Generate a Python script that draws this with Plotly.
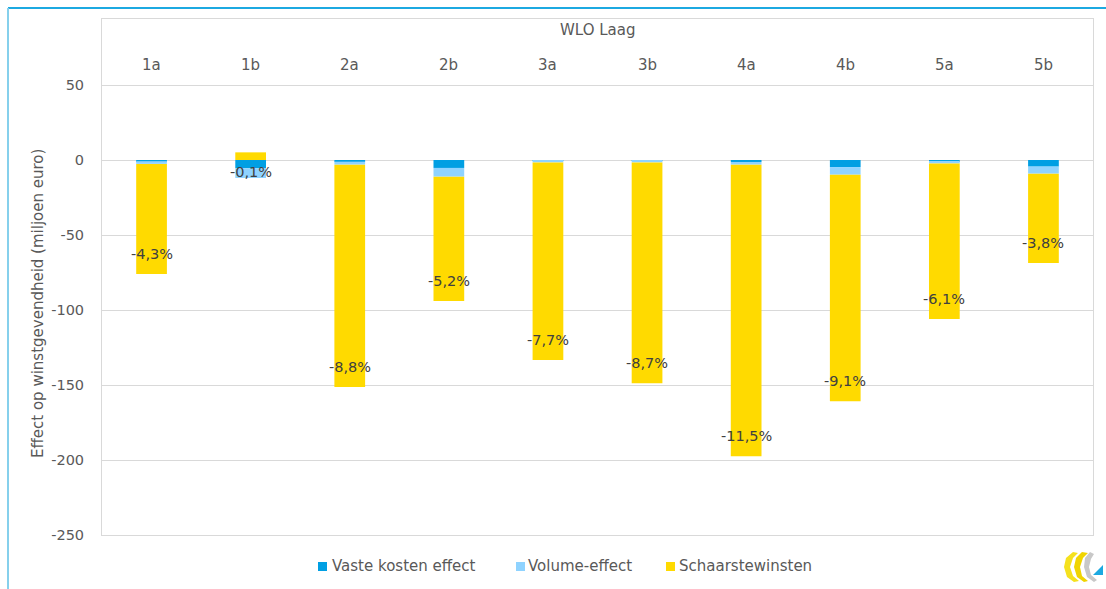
import plotly.graph_objects as go

# Scenario variants (WLO Laag)
categories = ["1a", "1b", "2a", "2b", "3a", "3b", "4a", "4b", "5a", "5b"]

# Effect on profitability, million euro
vaste_kosten = [-0.8, -5.5, -1.1, -5.3, -0.3, -0.3, -1.3, -4.7, -1.0, -4.4]
volume_effect = [-1.8, -6.5, -2.0, -5.8, -1.3, -1.3, -1.8, -5.1, -1.3, -4.7]
schaarstewinsten = [-73.4, 5.1, -148.3, -82.9, -131.8, -147.2, -194.4, -151.0, -103.7, -59.5]

# Relative change labels
pct_labels = ["-4,3%", "-0,1%", "-8,8%", "-5,2%", "-7,7%", "-8,7%", "-11,5%", "-9,1%", "-6,1%", "-3,8%"]

y_ticks = [50, 0, -50, -100, -150, -200, -250]

FONT = "DejaVu Sans"
TXT = "#595959"
GRID = "#D9D9D9"

W, H = 1106, 589
L, R, T, B = 102, 1093, 19, 535


def px(x):
    return (x - L) / (R - L)


def py(y):
    return (B - y) / (B - T)


fig = go.Figure()
series = [
    ("Vaste kosten effect", vaste_kosten, "#009FE3"),
    ("Volume-effect", volume_effect, "#8FD3FF"),
    ("Schaarstewinsten", schaarstewinsten, "#FFDA00"),
]
for name, vals, col in series:
    fig.add_trace(go.Bar(
        x=categories, y=vals, name=name,
        marker=dict(color=col, line=dict(width=0)),
        hoverinfo="x+y+name", showlegend=False,
    ))

annotations = []
# percentage labels sit just inside the end of the yellow segment
for c, v, vo, s, lab in zip(categories, vaste_kosten, volume_effect, schaarstewinsten, pct_labels):
    if s > 0:
        end, shift = s, -20
    else:
        end, shift = v + vo + s, 20
    annotations.append(dict(
        x=c, y=end, xref="x", yref="y", text=lab, showarrow=False,
        yshift=shift, xanchor="center", yanchor="middle",
        font=dict(family=FONT, size=14.5, color="#404040"),
    ))

# category labels along the top of the plot area
for c in categories:
    annotations.append(dict(
        x=c, y=63.5, xref="x", yref="y", text=c, showarrow=False,
        xanchor="center", yanchor="middle",
        font=dict(family=FONT, size=15, color=TXT),
    ))

annotations.append(dict(
    x=px(598), y=py(30), xref="paper", yref="paper", text="WLO Laag", showarrow=False,
    xanchor="center", yanchor="middle",
    font=dict(family=FONT, size=15, color=TXT),
))
annotations.append(dict(
    x=px(38), y=py(304), xref="paper", yref="paper",
    text="Effect op winstgevendheid (miljoen euro)", showarrow=False, textangle=-90,
    xanchor="center", yanchor="middle",
    font=dict(family=FONT, size=15, color=TXT),
))

shapes = [
    # outer frame accents
    dict(type="line", xref="paper", yref="paper", x0=px(8), x1=px(W), y0=py(8), y1=py(8),
         line=dict(color="#1CA9E1", width=2)),
    dict(type="line", xref="paper", yref="paper", x0=px(8), x1=px(8), y0=py(8), y1=py(H),
         line=dict(color="#86D0EC", width=2)),
]

# legend below the plot: square swatch + series name
legend_pos = [(318, 330), (516, 526), (666, 677)]
for (name, _, col), (sx, tx) in zip(series, legend_pos):
    shapes.append(dict(type="rect", xref="paper", yref="paper",
                       x0=px(sx), x1=px(sx + 9), y0=py(571), y1=py(562),
                       fillcolor=col, line=dict(width=0)))
    annotations.append(dict(
        x=px(tx), y=py(566), xref="paper", yref="paper", text=name, showarrow=False,
        xanchor="left", yanchor="middle",
        font=dict(family=FONT, size=15, color=TXT),
    ))


# small logo in the bottom-right corner
def poly_path(pts):
    return "M " + " L ".join(f"{px(a):.5f},{py(b):.5f}" for a, b in pts) + " Z"


shapes += [
    dict(type="path", xref="paper", yref="paper",
         path=poly_path([(1073, 552), (1066, 558), (1064, 567), (1067, 577), (1074, 582),
                         (1079, 581), (1073, 576), (1070, 567), (1073, 558), (1078, 553)]),
         fillcolor="#F5E11E", line=dict(width=0)),
    dict(type="path", xref="paper", yref="paper",
         path=poly_path([(1082, 552), (1076, 558), (1074, 567), (1077, 577), (1084, 582),
                         (1088, 581), (1082, 576), (1080, 567), (1083, 558), (1088, 553)]),
         fillcolor="#F0D400", line=dict(width=0)),
    dict(type="path", xref="paper", yref="paper",
         path=poly_path([(1090, 552), (1085, 558), (1084, 567), (1087, 577), (1094, 582),
                         (1097, 580), (1091, 575), (1089, 567), (1091, 559), (1094, 554)]),
         fillcolor="#C8C8C8", line=dict(width=0)),
    dict(type="path", xref="paper", yref="paper",
         path=poly_path([(1103, 565), (1103, 575), (1093, 575)]),
         fillcolor="#1CA9E1", line=dict(width=0)),
]

fig.update_layout(
    width=W, height=H,
    margin=dict(l=L, r=W - R, t=T, b=H - B, autoexpand=False),
    paper_bgcolor="white", plot_bgcolor="white",
    barmode="relative", bargap=0.69,
    font=dict(family=FONT, size=14, color=TXT),
    showlegend=False,
    annotations=annotations,
    shapes=shapes,
)
fig.update_xaxes(
    showticklabels=False, showgrid=False, ticks="",
    showline=True, linecolor=GRID, linewidth=1, mirror=True,
)
fig.update_yaxes(
    range=[-250, 94], tickvals=y_ticks, ticktext=[str(t) for t in y_ticks],
    showgrid=True, gridcolor=GRID, gridwidth=1,
    zeroline=True, zerolinecolor=GRID, zerolinewidth=1,
    showline=True, linecolor=GRID, linewidth=1, mirror=True,
    ticks="", ticklabelstandoff=14,
    tickfont=dict(family=FONT, size=14.5, color=TXT),
)

fig.write_html("out.html")
